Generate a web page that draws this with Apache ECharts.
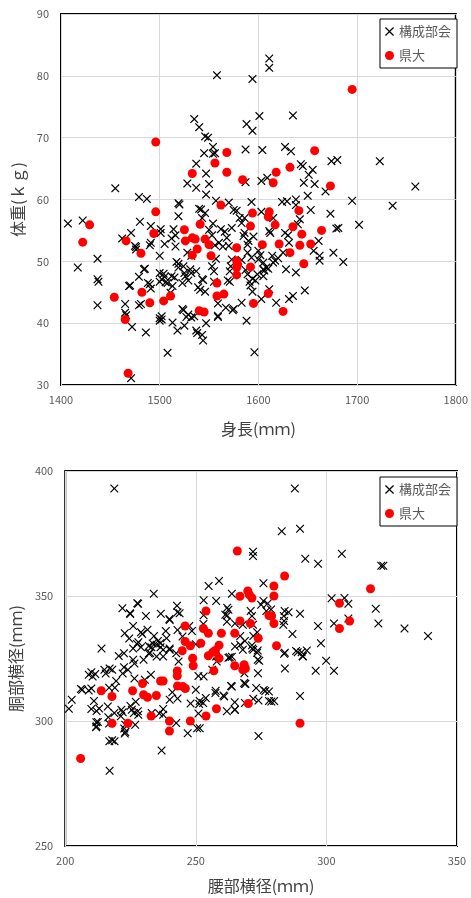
<!DOCTYPE html>
<html>
<head>
<meta charset="utf-8">
<script src="https://cdn.jsdelivr.net/npm/echarts@6/dist/echarts.min.js"></script>
<style>
html, body { margin: 0; padding: 0; background: #fff; }
#container { width: 471px; height: 898px; }
</style>
</head>
<body>
<div id="container"></div>
<script>
// 身長 / 体重 : 構成部会
var kouseiHeight = [1611,1611,1558,1594,1601,1635,1535,1540,1588,1594,1546,1549,1554,1556,1545,1554,1587,1604,1627,1633,
    1537,1547,1528,1537,1550,1587,1603,1609,1643,1645,1655,1651,1646,1657,1674,1680,1723,1759,1455,1479,
    1487,1519,1547,1557,1570,1593,1624,1629,1638,1650,1668,1695,1736,1540,1546,1578,1603,1653,1673,1638,
    1407,1422,1417,1437,1437,1438,1437,1462,1471,1475,1476,1480,1491,1491,1485,1488,1491,1479,1470,1465,
    1465,1472,1486,1479,1471,1501,1501,1500,1500,1502,1500,1505,1505,1506,1512,1513,1502,1502,1500,1508,
    1513,1514,1516,1517,1519,1519,1520,1523,1525,1518,1529,1532,1535,1537,1538,1543,1544,1547,1526,1529,
    1532,1528,1524,1539,1537,1543,1546,1542,1543,1550,1553,1553,1555,1557,1560,1559,1559,1567,1562,1568,
    1570,1573,1572,1571,1575,1573,1581,1583,1586,1585,1589,1589,1593,1589,1594,1592,1588,1596,1600,1602,
    1600,1605,1605,1608,1606,1610,1605,1599,1603,1611,1615,1611,1612,1614,1617,1615,1618,1627,1630,1631,
    1625,1628,1635,1631,1638,1642,1640,1647,1656,1661,1662,1662,1676,1679,1681,1686,1702,1469,1466,1476,
    1490,1484,1490,1481,1504,1508,1511,1500,1519,1515,1523,1524,1527,1541,1544,1532,1531,1525,1555,1559,
    1574,1583,1569,1571,1583,1587,1591,1594,1597,1554,1566,1575,1586,1590,1556,1564,1512,1516,1595,1620];
var kouseiWeight = [82.8,81.3,80.1,79.5,73.5,73.6,73.0,71.7,72.2,71.1,70.2,70.0,68.5,67.5,67.5,67.4,68.1,68.0,68.5,67.8,
    65.8,64.2,62.6,61.9,62.5,62.8,63.0,63.5,65.7,65.4,64.8,64.0,62.7,62.5,66.2,66.4,66.2,62.1,61.8,60.4,
    60.1,59.4,60.8,59.8,59.5,59.6,59.6,59.7,60.0,60.6,61.3,59.8,59.0,58.5,57.8,58.2,58.0,58.3,57.7,59.1,
    56.1,56.6,49.0,50.4,47.1,46.7,42.9,53.7,54.6,52.5,51.9,56.4,55.7,53.0,48.8,46.5,45.6,47.5,46.1,43.1,
    41.7,39.4,38.5,42.9,31.1,55.2,54.6,50.9,48.1,47.1,46.7,47.5,52.8,46.6,47.6,46.0,41.1,40.6,40.4,35.2,
    40.1,55.2,54.2,49.9,49.0,57.3,59.2,42.3,39.6,38.8,41.4,40.9,41.1,38.8,38.4,38.1,37.2,40.0,47.6,46.9,
    48.1,51.4,49.2,45.8,48.4,47.1,45.1,58.4,57.0,55.1,54.2,49.2,46.7,50.4,53.0,43.2,41.2,42.5,55.2,53.8,
    52.5,50.3,49.2,46.7,42.3,55.4,57.0,56.2,54.6,54.1,52.7,51.4,50.6,47.9,47.2,46.1,40.4,35.3,51.7,51.0,
    50.3,49.8,48.7,49.0,48.5,48.8,47.6,47.9,43.9,45.5,57.0,54.9,54.6,50.9,50.1,49.8,43.3,54.6,54.2,53.0,
    51.4,48.7,44.4,43.9,48.2,56.8,56.0,45.3,51.7,53.3,50.9,50.1,51.4,55.3,55.4,49.9,55.9,46.0,41.3,52.3,
    52.6,48.7,46.3,43.1,48.0,46.5,44.9,40.8,49.6,47.4,46.5,42.1,41.0,45.4,47.0,50.9,48.7,48.1,48.4,41.0,
    42.1,43.3,46.9,48.4,50.2,48.6,46.7,45.1,46.9,56.1,54.8,58.3,57.0,53.3,52.6,52.4,53.7,52.4,54.0,50.5];

// 身長 / 体重 : 県大
var kendaiHeight = [1695,1496,1657,1568,1556,1568,1533,1632,1618,1584,1615,1673,1496,1562,1594,1611,1641,1610,1429,1422,
    1466,1481,1494,1525,1541,1526,1533,1536,1538,1533,1546,1550,1552,1578,1578,1579,1578,1578,1592,1592,
    1604,1617,1621,1635,1632,1644,1642,1646,1653,1664,1558,1558,1565,1610,1454,1482,1490,1504,1511,1540,
    1545,1595,1625,1465,1468];
var kendaiWeight = [77.8,69.3,67.9,67.6,65.9,64.4,64.2,65.2,64.4,63.2,62.7,62.2,58.0,59.1,57.8,58.0,58.2,57.2,55.9,53.1,
    53.3,51.3,54.5,55.1,56.0,53.3,53.8,53.6,52.0,51.0,53.6,52.7,50.9,52.2,50.1,49.5,49.0,47.8,55.7,49.1,
    52.7,55.9,52.8,55.6,51.4,54.4,52.6,49.6,52.8,55.0,46.5,44.4,44.7,44.8,44.2,45.0,43.3,43.6,44.4,42.0,
    41.8,43.2,41.9,40.6,31.9];

// 腰部横径 / 胴部横径 : 構成部会
var kouseiWaist = [218.8,287.9,289.9,282.9,271.9,271.9,305.9,291.9,296.8,321.0,321.8,258.9,254.9,275.9,233.9,302.0,306.9,308.4,253.0,257.8,
    263.8,221.9,227.9,224.9,230.9,236.6,242.8,243.8,239.9,226.0,222.8,229.5,213.9,318.9,319.9,329.9,338.9,289.9,296.8,302.9,
    308.4,284.0,285.5,283.8,283.5,287.0,297.9,289.0,290.5,292.5,291.0,284.1,299.9,302.9,295.9,284.1,274.3,272.0,273.5,272.0,
    273.5,271.0,271.5,275.9,277.5,278.8,277.0,262.0,262.0,265.0,268.0,267.0,268.0,263.0,257.8,253.0,252.9,247.5,248.5,243.0,
    244.9,238.8,235.5,236.5,233.0,232.0,240.0,242.5,243.4,250.0,256.3,273.8,272.0,276.0,278.0,278.0,280.0,289.9,274.0,201.4,
    206.5,210.0,211.0,210.0,211.5,212.0,213.0,211.9,211.8,216.9,218.9,217.0,216.5,216.8,216.8,219.0,215.0,218.0,222.6,222.8,
    221.5,222.0,226.8,225.5,225.0,227.8,227.0,232.8,236.9,236.0,237.5,240.0,243.0,241.0,246.9,250.5,251.5,251.0,251.5,252.8,
    257.6,260.6,261.9,264.9,264.9,268.8,268.6,263.8,224.8,227.6,240.0,243.0,238.5,222.5,226.0,227.5,228.0,229.0,232.0,233.5,
    235.0,236.5,237.5,240.0,222.5,224.0,222.0,226.0,226.5,230.0,232.5,235.0,237.5,209.0,210.5,217.0,215.5,206.0,209.0,202.5,
    210.0,216.3,218.8,212.5,212.0,218.0,223.0,223.0,221.3,226.3,228.0,233.1,237.5,242.5,253.8,257.5,260.9,263.5,269.0,251.0,
    253.0,250.0,248.0,251.3,265.0,268.8,274.0,273.1,268.5,262.5,263.8,258.0,268.8,267.0,271.6,271.5,265.0,271.9,261.3,262.5,
    261.9,283.7,288.4,290.9,283.8,276.6,278.9,273.7,273.7,275.0,220.5,224.5,229.0,231.5,234.0,226.5,230.5,219.5];
var kouseiTrunk = [393.0,393.0,376.9,375.9,367.7,366.0,366.9,364.9,362.9,362.1,362.1,356.0,354.0,355.1,350.9,349.1,349.2,346.9,348.3,348.0,
    350.9,345.1,346.9,342.8,342.0,342.9,346.1,343.1,340.8,338.0,335.1,334.8,329.0,344.9,339.0,337.0,334.0,342.9,338.0,339.0,
    341.0,344.0,343.5,340.0,338.5,334.8,331.1,327.5,327.5,328.2,325.8,327.3,324.1,320.1,320.1,321.0,324.1,328.5,327.3,334.0,
    335.5,344.0,342.0,348.0,347.0,344.6,344.0,345.3,342.2,339.0,338.5,330.5,328.5,325.5,325.8,342.3,338.8,338.0,336.0,336.4,
    333.8,333.1,332.0,331.2,329.5,327.0,328.5,327.1,323.8,330.7,320.5,319.1,308.9,312.4,311.8,308.0,308.0,310.0,294.0,304.9,
    312.5,313.0,308.0,319.5,318.8,304.0,305.0,299.5,297.5,291.9,291.9,280.1,301.5,299.0,313.3,313.3,320.5,320.5,297.0,295.0,
    304.5,303.5,298.5,304.5,306.0,303.9,307.7,318.5,288.2,303.0,302.5,308.5,309.0,311.5,295.1,297.1,297.1,303.0,308.0,307.2,
    312.1,310.2,303.9,304.5,307.5,314.8,319.1,313.8,343.1,347.1,340.4,343.5,336.0,327.1,329.0,330.8,331.5,329.5,330.0,331.0,
    330.5,329.5,328.5,329.0,321.5,320.5,319.0,324.5,323.0,324.5,327.2,325.8,325.8,318.5,317.8,321.0,319.0,312.8,312.2,308.5,
    304.8,305.8,303.2,299.6,297.9,292.3,295.6,298.5,301.9,303.2,302.5,303.2,304.8,299.2,309.2,311.2,309.8,314.0,314.9,318.0,
    317.8,312.5,307.0,306.8,304.5,307.2,308.2,313.2,315.2,325.3,325.7,323.8,332.0,334.0,329.0,330.3,329.8,338.5,342.5,344.5,
    339.7,342.0,328.0,326.0,326.9,312.0,307.8,324.5,328.2,346.5,326.0,333.0,335.5,336.5,334.0,317.0,316.5,316.0];

// 腰部横径 / 胴部横径 : 県大
var kendaiWaist = [265.9,284.0,279.9,316.9,269.9,266.9,270.5,271.5,279.9,305.0,253.9,308.9,305.0,278.0,279.0,279.9,266.9,270.9,245.9,252.9,
    254.8,259.8,264.9,273.9,245.9,247.9,251.9,258.9,244.8,256.5,257.5,280.9,254.8,248.8,258.9,249.0,264.9,268.5,269.0,268.0,
    256.9,242.9,242.9,229.6,236.5,237.5,243.0,245.0,246.0,213.8,217.9,225.8,230.0,231.5,234.9,270.1,257.9,253.9,232.9,239.9,
    247.9,224.0,217.9,239.9,289.9,205.9];
var kendaiTrunk = [368.0,358.0,354.0,352.9,352.0,349.9,350.5,349.2,350.0,347.1,344.0,340.0,337.0,342.2,342.0,339.0,340.0,339.0,338.0,337.0,
    335.1,335.1,335.1,333.1,331.8,330.1,331.1,330.3,328.1,327.5,328.2,330.1,326.1,325.1,325.1,322.1,322.1,322.5,321.0,320.5,
    320.1,320.0,318.1,315.0,316.0,316.0,314.0,313.8,313.0,312.1,309.8,312.1,310.5,309.5,310.2,307.0,304.9,302.0,302.0,300.0,
    300.0,299.1,299.1,296.0,299.1,285.0];

function pairs(xs, ys) {
    var out = [];
    for (var i = 0; i < xs.length; i++) {
        out.push([xs[i], ys[i]]);
    }
    return out;
}

var dom = document.getElementById("container");
var myChart = echarts.init(dom);
var jp = "'Noto Sans CJK JP', sans-serif";
var cross = 'path://M1,0L5,4L9,0L10,1L6,5L10,9L9,10L5,6L1,10L0,9L4,5L0,1Z';
var plain = function (v) { return String(v); };

function xAxisOf(idx, min, max, step, name, gap) {
    return {
        gridIndex: idx, type: 'value', min: min, max: max, interval: step,
        axisLine: { show: false }, axisTick: { show: false },
        splitLine: { lineStyle: { color: '#d9d9d9', width: 1 } },
        axisLabel: { color: '#595959', fontSize: 11, fontFamily: jp, margin: 9, formatter: plain },
        name: name, nameLocation: 'middle', nameGap: gap,
        nameTextStyle: { color: '#404040', fontSize: 16, fontFamily: jp }
    };
}
function yAxisOf(idx, min, max, step, name, gap) {
    return {
        gridIndex: idx, type: 'value', min: min, max: max, interval: step,
        axisLine: { show: false }, axisTick: { show: false },
        splitLine: { lineStyle: { color: '#d9d9d9', width: 1 } },
        axisLabel: { color: '#595959', fontSize: 11, fontFamily: jp, margin: 12, formatter: plain },
        name: name, nameLocation: 'middle', nameGap: gap,
        nameTextStyle: { color: '#404040', fontSize: 16, fontFamily: jp }
    };
}
function legendAt(top) {
    return {
        orient: 'vertical', right: 14, top: top,
        data: ['構成部会', '県大'],
        backgroundColor: '#fff', borderColor: '#000', borderWidth: 1,
        padding: [6, 6, 6, 5], itemGap: 11, itemWidth: 9, itemHeight: 9,
        textStyle: { color: '#595959', fontSize: 13, fontFamily: jp }
    };
}

option = {
    animation: false,
    backgroundColor: '#fff',
    grid: [
        { left: 61, top: 14, width: 397, height: 371, show: true, borderColor: '#000', borderWidth: 2, backgroundColor: 'transparent' },
        { left: 57, top: 471, width: 400, height: 375, show: true, borderColor: '#000', borderWidth: 2, backgroundColor: 'transparent' }
    ],
    legend: [legendAt(19), legendAt(477)],
    xAxis: [
        xAxisOf(0, 1400, 1800, 100, '身長(ｍｍ)', 36),
        xAxisOf(1, 200, 350, 50, '腰部横径(ｍｍ)', 32)
    ],
    yAxis: [
        yAxisOf(0, 30, 90, 10, '体重(ｋｇ)', 35),
        yAxisOf(1, 250, 400, 50, '胴部横径(ｍｍ)', 33)
    ],
    series: [
        { name: '構成部会', type: 'scatter', xAxisIndex: 0, yAxisIndex: 0, symbol: cross, symbolSize: 8.5,
          itemStyle: { color: '#000', opacity: 1 }, data: pairs(kouseiHeight, kouseiWeight) },
        { name: '県大', type: 'scatter', xAxisIndex: 0, yAxisIndex: 0, symbol: 'circle', symbolSize: 9,
          itemStyle: { color: '#ff0000', opacity: 1 }, data: pairs(kendaiHeight, kendaiWeight) },
        { name: '構成部会', type: 'scatter', xAxisIndex: 1, yAxisIndex: 1, symbol: cross, symbolSize: 8.5,
          itemStyle: { color: '#000', opacity: 1 }, data: pairs(kouseiWaist, kouseiTrunk) },
        { name: '県大', type: 'scatter', xAxisIndex: 1, yAxisIndex: 1, symbol: 'circle', symbolSize: 9,
          itemStyle: { color: '#ff0000', opacity: 1 }, data: pairs(kendaiWaist, kendaiTrunk) }
    ]
};
if (option && typeof option === "object") {
    myChart.setOption(option, true);
}
</script>
</body>
</html>
